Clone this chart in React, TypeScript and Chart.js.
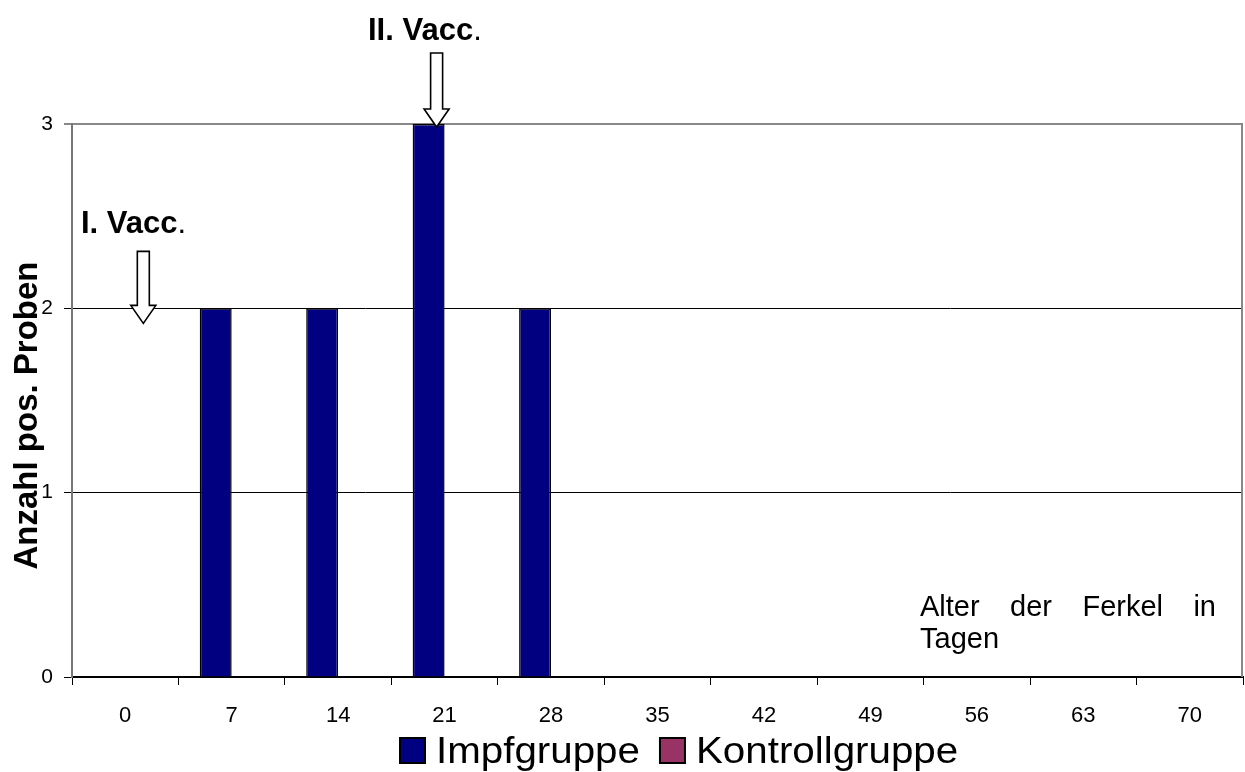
import React, { useEffect, useRef } from 'react';
import { Chart, registerables } from 'chart.js';

Chart.register(...registerables);

const categories = ['0', '7', '14', '21', '28', '35', '42', '49', '56', '63', '70'];
const impfgruppe = [0, 2, 2, 3, 2, 0, 0, 0, 0, 0, 0];
const kontrollgruppe = [0, 0, 0, 0, 0, 0, 0, 0, 0, 0, 0];
const seriesNames = ['Impfgruppe', 'Kontrollgruppe'];
const seriesColors = ['#000080', '#993366'];
const yMin = 0;
const yMax = 3;
const yStep = 1;
const yTitle = 'Anzahl pos. Proben';
const xNoteLine1 = ['Alter', 'der', 'Ferkel', 'in'];
const xNoteLine2 = 'Tagen';
const vaccLabels = ['I. Vacc', 'II. Vacc'];
const vaccCategoryIndex = [0, 3];
const vaccLevel = [2, 3];

const FONT = '"Liberation Sans", Arial, sans-serif';

function drawArrow(ctx: CanvasRenderingContext2D, cx: number, top: number, tip: number) {
  const sh = 6;
  const hh = 12.5;
  const hl = 18;
  ctx.save();
  ctx.beginPath();
  ctx.moveTo(cx - sh, top);
  ctx.lineTo(cx + sh, top);
  ctx.lineTo(cx + sh, tip - hl);
  ctx.lineTo(cx + hh, tip - hl);
  ctx.lineTo(cx, tip);
  ctx.lineTo(cx - hh, tip - hl);
  ctx.lineTo(cx - sh, tip - hl);
  ctx.closePath();
  ctx.fillStyle = '#fff';
  ctx.fill();
  ctx.lineWidth = 1.6;
  ctx.strokeStyle = '#000';
  ctx.stroke();
  ctx.restore();
}

function drawVaccLabel(ctx: CanvasRenderingContext2D, label: string, x: number, y: number) {
  ctx.fillStyle = '#000';
  ctx.textAlign = 'left';
  ctx.textBaseline = 'alphabetic';
  ctx.font = 'bold 31px ' + FONT;
  ctx.fillText(label, x, y);
  const w = ctx.measureText(label).width;
  ctx.font = '31px ' + FONT;
  ctx.fillText('.', x + w, y);
}

const overlayPlugin = {
  id: 'overlay',
  afterDraw(chart: any) {
    const ctx: CanvasRenderingContext2D = chart.ctx;
    const area = chart.chartArea;
    const xs = chart.scales.x;
    const ys = chart.scales.y;
    ctx.save();

    // right plot border
    ctx.strokeStyle = '#888';
    ctx.lineWidth = 2;
    ctx.beginPath();
    ctx.moveTo(area.right - 1, area.top - 1);
    ctx.lineTo(area.right - 1, area.bottom);
    ctx.stroke();

    // y title
    ctx.save();
    ctx.translate(28, (area.top + area.bottom) / 2 + 15);
    ctx.rotate(-Math.PI / 2);
    ctx.fillStyle = '#000';
    ctx.font = 'bold 33px ' + FONT;
    ctx.textAlign = 'center';
    ctx.textBaseline = 'middle';
    ctx.fillText(yTitle, 0, 0);
    ctx.restore();

    const catW = xs.width / categories.length;
    // I. Vacc
    {
      const cx = xs.getPixelForValue(vaccCategoryIndex[0]) + catW * 0.17;
      const tip = ys.getPixelForValue(vaccLevel[0]) + 15;
      drawArrow(ctx, cx, tip - 72, tip);
      drawVaccLabel(ctx, vaccLabels[0], area.left + 9, tip - 90);
    }
    // II. Vacc
    {
      const cx = xs.getPixelForValue(vaccCategoryIndex[1]) - catW * 0.075;
      const tip = ys.getPixelForValue(vaccLevel[1]) + 3;
      drawArrow(ctx, cx, tip - 74, tip);
      drawVaccLabel(ctx, vaccLabels[1], 368, tip - 87);
    }

    // x note, justified
    {
      ctx.fillStyle = '#000';
      ctx.font = '29px ' + FONT;
      ctx.textAlign = 'left';
      ctx.textBaseline = 'alphabetic';
      const left = 920;
      const right = 1216;
      const widths = xNoteLine1.map((t) => ctx.measureText(t).width);
      const total = widths.reduce((a, b) => a + b, 0);
      const gap = (right - left - total) / (xNoteLine1.length - 1);
      let x = left;
      const by = area.bottom - 61;
      xNoteLine1.forEach((t, i) => {
        ctx.fillText(t, x, by);
        x += widths[i] + gap;
      });
      ctx.fillText(xNoteLine2, left, by + 32);
    }

    // legend
    {
      ctx.font = '36px ' + FONT;
      ctx.textAlign = 'left';
      ctx.textBaseline = 'alphabetic';
      const stretch = 1.12;
      let x = 400;
      const boxY = 738;
      const box = 25;
      seriesNames.forEach((name, i) => {
        ctx.fillStyle = seriesColors[i];
        ctx.fillRect(x, boxY, box, box);
        ctx.lineWidth = 2;
        ctx.strokeStyle = '#000';
        ctx.strokeRect(x, boxY, box, box);
        ctx.fillStyle = '#000';
        const tx = x + box + 11;
        ctx.save();
        ctx.translate(tx, boxY + box);
        ctx.scale(stretch, 1);
        ctx.fillText(name, 0, 0);
        ctx.restore();
        x = tx + ctx.measureText(name).width * stretch + 20;
      });
    }

    ctx.restore();
  },
};

export default function App() {
  const canvasRef = useRef<HTMLCanvasElement | null>(null);

  useEffect(() => {
    const canvas = canvasRef.current;
    if (!canvas) return;
    const chart = new Chart(canvas, {
      type: 'bar',
      data: {
        labels: categories,
        datasets: [
          {
            label: seriesNames[0],
            data: impfgruppe,
            backgroundColor: seriesColors[0],
            borderColor: '#000',
            borderWidth: 1.5,
            categoryPercentage: 0.6,
            barPercentage: 1,
          },
          {
            label: seriesNames[1],
            data: kontrollgruppe,
            backgroundColor: seriesColors[1],
            borderColor: '#000',
            borderWidth: 1.5,
            categoryPercentage: 0.6,
            barPercentage: 1,
          },
        ],
      },
      options: {
        responsive: false,
        animation: false,
        devicePixelRatio: 1,
        layout: { padding: { top: 124, left: 0, right: 2, bottom: 0 } },
        plugins: {
          legend: { display: false },
          tooltip: { enabled: false },
          title: { display: false },
        },
        scales: {
          x: {
            afterFit: (s: any) => {
              s.height = 95;
            },
            grid: {
              offset: true,
              drawOnChartArea: false,
              drawTicks: true,
              tickLength: 8,
              color: '#000',
              lineWidth: 1,
            },
            border: { display: true, color: '#000', width: 2 },
            ticks: {
              color: '#000',
              font: { family: FONT, size: 22 },
              padding: 18,
              maxRotation: 0,
              autoSkip: false,
            },
          },
          y: {
            min: yMin,
            max: yMax,
            afterFit: (s: any) => {
              s.width = 72;
            },
            grid: {
              color: (c: any) => (c.tick && c.tick.value === yMax ? '#888' : '#000'),
              lineWidth: (c: any) => (c.tick && c.tick.value === yMax ? 2 : 1),
              drawTicks: true,
              tickLength: 8,
            },
            border: { display: true, color: '#777', width: 2 },
            ticks: {
              stepSize: yStep,
              color: '#000',
              font: { family: FONT, size: 21 },
              padding: 11,
            },
          },
        },
      },
      plugins: [overlayPlugin],
    });
    return () => chart.destroy();
  }, []);

  return (
    <div style={{ position: 'fixed', left: 0, top: 0, width: 1245, height: 772, background: '#fff' }}>
      <canvas ref={canvasRef} width={1245} height={772} style={{ display: 'block' }} />
    </div>
  );
}
